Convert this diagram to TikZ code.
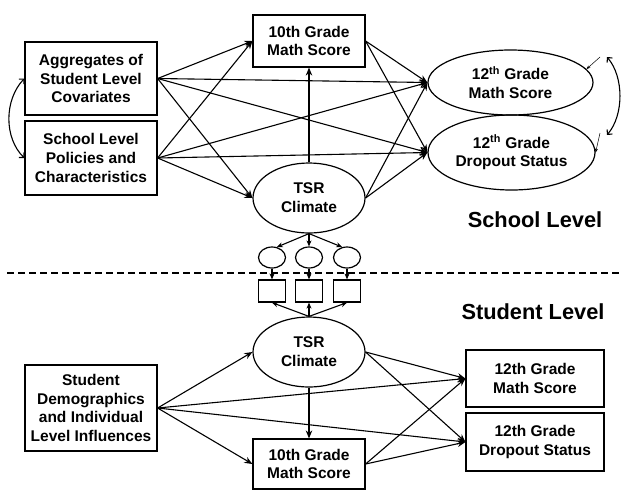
\documentclass[tikz,border=0pt]{standalone}
\usepackage{fontspec}
\setmainfont{Liberation Sans}
\usetikzlibrary{shapes.geometric,arrows.meta}
\begin{document}
\begin{tikzpicture}[x=1pt,y=-1pt,
  lbl/.style={font=\bfseries\fontsize{15.5}{18.8}\selectfont, align=center},
  box/.style={draw, line width=1.2pt, lbl, inner sep=0pt},
  ell/.style={draw, ellipse, line width=1.2pt, lbl, inner sep=0pt},
  arr/.style={line width=1.1pt, -{Stealth[length=8pt,width=6.5pt]}},
  sarr/.style={line width=1.1pt, -{Stealth[length=6pt,width=5pt]}},
  cov/.style={line width=1.1pt, {Straight Barb[length=3.5pt,width=7pt]}-{Straight Barb[length=3.5pt,width=7pt]}},
  resid/.style={line width=0.5pt, -{Stealth[length=4pt,width=3pt]}},
  big/.style={font=\bfseries\fontsize{21.8}{25}\selectfont}]
\useasboundingbox (0,0) rectangle (623,491);
\fill[white] (0,0) rectangle (623,491);

% ---------- School level ----------
\node[box, minimum width=132pt, minimum height=73pt] (agg) at (91,78.5) {Aggregates of\\Student Level\\Covariates};
\node[box, minimum width=132pt, minimum height=74pt] (pol) at (91,158) {School Level\\Policies and\\Characteristics};
\node[box, minimum width=112pt, minimum height=52pt] (ten) at (309,41) {10th Grade\\Math Score};
\node[ell, minimum width=112pt, minimum height=70pt] (tsr) at (309,198) {TSR\\Climate};
\node[ell, minimum width=165pt, minimum height=65pt] (mth) at (510.5,82.5) {12\textsuperscript{th} Grade\\Math Score};
\node[ell, minimum width=167pt, minimum height=75pt] (drp) at (511.5,152.5) {12\textsuperscript{th} Grade\\Dropout Status};
\node[big] (schl) at (535,220) {School Level};

\foreach \s in {agg,pol}{
  \draw[arr] (\s.east) -- (ten.west);
  \draw[arr] (\s.east) -- (tsr.west);
  \draw[arr] (\s.east) -- (mth.west);
  \draw[arr] (\s.east) -- (drp.west);
}
\draw[arr] (ten.east) -- (mth.west);
\draw[arr] (ten.east) -- (drp.west);
\draw[arr] (tsr.east) -- (mth.west);
\draw[arr] (tsr.east) -- (drp.west);
\draw[arr] (tsr.north) -- (ten.south);

\draw[cov] (agg.west) .. controls (4,100) and (4,138) .. (pol.west);

\coordinate (e1) at (600,57);
\coordinate (e2) at (600,133);
\draw[resid] (e1) -- (mth.10);
\draw[resid] (e2) -- (drp.east);
\coordinate (c1) at (607,57);
\coordinate (c2) at (607,135);
\draw[cov] (c1) .. controls (624,77) and (624,115) .. (c2);

% ---------- Measurement ----------
\foreach \i/\x in {1/272,2/309,3/347}{
  \node[draw, ellipse, line width=1.2pt, minimum width=27pt, minimum height=21pt, inner sep=0pt] (k\i) at (\x,257.5) {};
  \node[draw, line width=1.2pt, minimum width=27pt, minimum height=22pt, inner sep=0pt] (r\i) at (\x,291) {};
  \draw[sarr] (k\i.south) -- (r\i.north);
}
\draw[sarr] (tsr.south) -- (k1.65);
\draw[sarr] (tsr.south) -- (k2.north);
\draw[sarr] (tsr.south) -- (k3.115);

\draw[line width=1.4pt, dash pattern=on 7pt off 4pt] (7,273) -- (623,273);

% ---------- Student level ----------
\node[ell, minimum width=112pt, minimum height=70pt] (tsb) at (309,352) {TSR\\Climate};
\node[box, minimum width=132pt, minimum height=86pt] (stu) at (91,408) {Student\\Demographics\\and Individual\\Level Influences};
\node[box, minimum width=112pt, minimum height=50pt] (tnb) at (309,464) {10th Grade\\Math Score};
\node[box, minimum width=138pt, minimum height=57pt] (mtb) at (535,378.5) {12th Grade\\Math Score};
\node[box, minimum width=138pt, minimum height=58pt] (dpb) at (535,442) {12th Grade\\Dropout Status};
\node[big] (stul) at (533,312) {Student Level};

\foreach \i in {1,2,3}{
  \draw[sarr] (tsb.north) -- (r\i.south);
}
\draw[arr] (stu.east) -- (tsb.west);
\draw[arr] (stu.east) -- (mtb.west);
\draw[arr] (stu.east) -- (dpb.west);
\draw[arr] (stu.east) -- (tnb.west);
\draw[arr] (tsb.east) -- (mtb.west);
\draw[arr] (tsb.east) -- (dpb.west);
\draw[arr] (tnb.east) -- (mtb.west);
\draw[arr] (tnb.east) -- (dpb.west);
\draw[arr] (tsb.south) -- (tnb.north);
\end{tikzpicture}
\end{document}
